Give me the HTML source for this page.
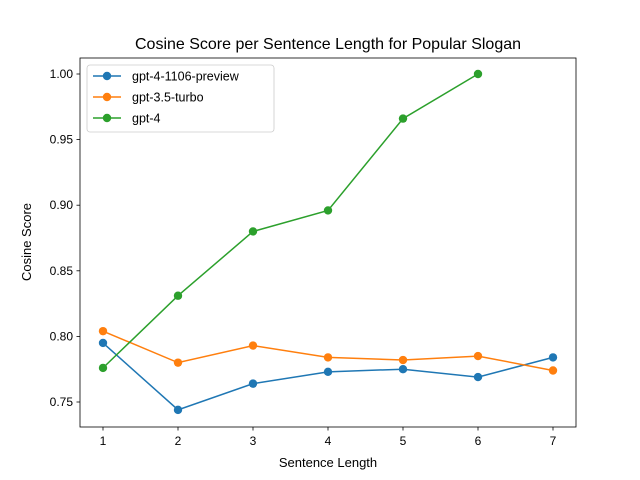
<!DOCTYPE html>
<html><head><meta charset="utf-8"><style>
body{margin:0;background:#fff;}
svg{display:block;font-family:"Liberation Sans","DejaVu Sans",sans-serif;}
</style></head><body>
<svg id="chart" width="640" height="480"></svg>
<script>
const categories=[1,2,3,4,5,6,7];
const seriesNames=["gpt-4-1106-preview","gpt-3.5-turbo","gpt-4"];
const gpt41106Values=[0.795,0.744,0.764,0.773,0.775,0.769,0.784];
const gpt35Values=[0.804,0.780,0.793,0.784,0.782,0.785,0.774];
const gpt4Values=[0.776,0.831,0.880,0.896,0.966,1.000];
const yTicks=[0.75,0.80,0.85,0.90,0.95,1.00];
const yTickLabels=["0.75","0.80","0.85","0.90","0.95","1.00"];
const colors=["#1f77b4","#ff7f0e","#2ca02c"];
const NS="http://www.w3.org/2000/svg";
const svg=document.getElementById('chart');
const L=80,R=576,T=58,B=427;
function xs(v){return 103+(v-1)*75;}
function ys(v){return 402-(v-0.75)*1312;}
function mk(tag,attrs,parent){const e=document.createElementNS(NS,tag);for(const k in attrs)e.setAttribute(k,attrs[k]);(parent||svg).appendChild(e);return e;}
const title=mk('text',{x:328,y:49,'text-anchor':'middle','font-size':16,fill:'#000'});


title.textContent="Cosine Score per Sentence Length for Popular Slogan";
const frame=mk('rect',{x:L,y:T,width:R-L,height:B-T,fill:'none',stroke:'#000','stroke-width':0.8});


categories.forEach(c=>{
  const x=xs(c);
  mk('line',{x1:x,x2:x,y1:B,y2:B+3.5,stroke:'#000','stroke-width':0.8});
  const t=mk('text',{x:x,y:B+18,'text-anchor':'middle','font-size':12});
  
  
  t.textContent=c;
});
yTicks.forEach((v,i)=>{
  const y=ys(v);
  mk('line',{x1:L-3.5,x2:L,y1:y,y2:y,stroke:'#000','stroke-width':0.8});
  const t=mk('text',{x:L-7,y:y+4,'text-anchor':'end','font-size':12});
  
  
  t.textContent=yTickLabels[i];
});
const xt=mk('text',{x:328,y:467,'text-anchor':'middle','font-size':13});


xt.textContent="Sentence Length";
const yt=mk('text',{x:31,y:242,'text-anchor':'middle','font-size':13,transform:'rotate(-90 31 242)'});


yt.textContent="Cosine Score";
[gpt41106Values,gpt35Values,gpt4Values].forEach((vals,si)=>{
  const g=mk('g',{});
  
  
  const pts=vals.map((v,i)=>xs(categories[i])+','+ys(v)).join(' ');
  mk('polyline',{points:pts,fill:'none',stroke:colors[si],'stroke-width':1.5},g);
  vals.forEach((v,i)=>{
    const c=mk('circle',{cx:xs(categories[i]),cy:ys(v),r:4.2,fill:colors[si]},g);
    
    
  });
});
const lg=mk('g',{});


mk('rect',{x:87,y:65,width:187,height:67,rx:3,fill:'#fff',stroke:'#ccc','stroke-width':0.8,'fill-opacity':0.8},lg);
seriesNames.forEach((n,i)=>{
  const y=76+i*21;
  const e=mk('g',{},lg);
  
  
  mk('line',{x1:93,x2:121,y1:y,y2:y,stroke:colors[i],'stroke-width':1.5},e);
  mk('circle',{cx:107,cy:y,r:4.2,fill:colors[i]},e);
  const t=mk('text',{x:132,y:y+4.5,'font-size':12.5},e);
  t.textContent=n;
});
</script>
</body></html>
